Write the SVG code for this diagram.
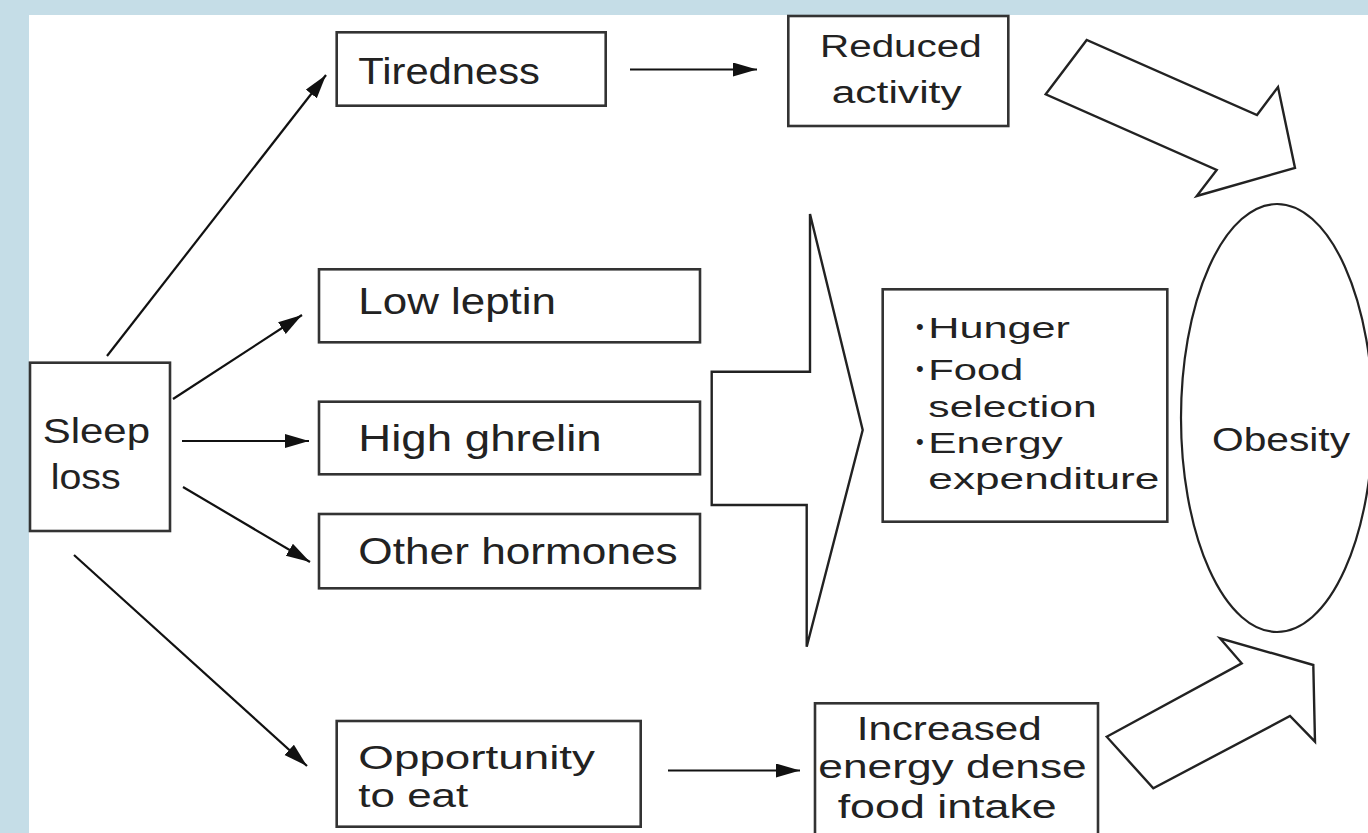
<svg xmlns="http://www.w3.org/2000/svg" width="1368" height="833" viewBox="0 0 1368 833">
<style>
.box{fill:#fff;stroke:#333;stroke-width:2.6}
.blk{fill:#fff;stroke:#222;stroke-width:2.4;stroke-linejoin:miter}
.t{font-family:"Liberation Sans",Arial,sans-serif;fill:#222}
.b{font-size:22px}
.c{stroke:#111;stroke-width:2.2;fill:none}
</style>
<defs>
<marker id="ah" markerUnits="userSpaceOnUse" markerWidth="26" markerHeight="16" refX="24" refY="7" orient="auto">
<path d="M0,0 L24,7 L0,14 Z" fill="#111"/>
</marker>
</defs>
<rect x="0" y="0" width="1368" height="833" fill="#c5dde7"/>
<rect x="29" y="15" width="1339" height="818" fill="#fff"/>

<g id="connectors">
<line class="c" x1="107" y1="356" x2="326" y2="75" marker-end="url(#ah)"/>
<line class="c" x1="173" y1="399" x2="302" y2="315" marker-end="url(#ah)"/>
<line class="c" x1="182" y1="441" x2="309" y2="441" marker-end="url(#ah)"/>
<line class="c" x1="183" y1="487" x2="310" y2="562" marker-end="url(#ah)"/>
<line class="c" x1="74" y1="555" x2="307" y2="766" marker-end="url(#ah)"/>
<line class="c" x1="630" y1="69.5" x2="757" y2="69.5" marker-end="url(#ah)"/>
<line class="c" x1="668" y1="770.5" x2="800" y2="770.5" marker-end="url(#ah)"/>
<polygon id="arrow-top" class="blk" points="1045.7,94.3 1086.7,40 1257,115 1278,87 1295,168 1196.7,196 1216.7,170"/>
<polygon id="arrow-mid" class="blk" points="810,214 810,371.7 711.7,371.7 711.7,505 806.7,505 806.7,646.7 862.7,430"/>
<polygon id="arrow-bottom" class="blk" points="1106.7,736.7 1241.7,663.3 1220,638.3 1313.3,665 1315,741.7 1290,716 1153.3,788.3"/>
</g>

<g id="sleep-loss">
<rect class="box" x="30" y="362.7" width="140" height="168.3"/>
<text class="t" x="42.7" y="443.3" font-size="35" textLength="107.3" lengthAdjust="spacingAndGlyphs">Sleep</text>
<text class="t" x="50.7" y="489.3" font-size="35" textLength="70" lengthAdjust="spacingAndGlyphs">loss</text>
</g>

<g id="tiredness">
<rect class="box" x="336.7" y="32.3" width="269" height="73.4"/>
<text class="t" x="358.3" y="84" font-size="37" textLength="181.7" lengthAdjust="spacingAndGlyphs">Tiredness</text>
</g>

<g id="reduced-activity">
<rect class="box" x="788.3" y="16" width="220" height="110"/>
<text class="t" x="820" y="57" font-size="31" textLength="161.7" lengthAdjust="spacingAndGlyphs">Reduced</text>
<text class="t" x="831.7" y="103" font-size="31" textLength="130" lengthAdjust="spacingAndGlyphs">activity</text>
</g>

<g id="low-leptin">
<rect class="box" x="319" y="269.3" width="381" height="73"/>
<text class="t" x="358.3" y="314" font-size="36" textLength="197.7" lengthAdjust="spacingAndGlyphs">Low leptin</text>
</g>

<g id="high-ghrelin">
<rect class="box" x="319" y="401.7" width="381" height="72.6"/>
<text class="t" x="358.3" y="450.7" font-size="36" textLength="243.4" lengthAdjust="spacingAndGlyphs">High ghrelin</text>
</g>

<g id="other-hormones">
<rect class="box" x="319" y="514" width="381" height="74.3"/>
<text class="t" x="358.3" y="564.3" font-size="36" textLength="319.4" lengthAdjust="spacingAndGlyphs">Other hormones</text>
</g>

<g id="hunger-box">
<rect class="box" x="882.7" y="289.3" width="284.6" height="232.4"/>
<text class="t" x="916" y="338.3" font-size="29"><tspan class="b" dy="-4">•</tspan><tspan x="928.3" dy="4" textLength="141.7" lengthAdjust="spacingAndGlyphs">Hunger</tspan></text>
<text class="t" x="916" y="380" font-size="29"><tspan class="b" dy="-4">•</tspan><tspan x="928.3" dy="4" textLength="95" lengthAdjust="spacingAndGlyphs">Food</tspan></text>
<text class="t" x="928.3" y="417.3" font-size="29" textLength="168.4" lengthAdjust="spacingAndGlyphs">selection</text>
<text class="t" x="916" y="453.3" font-size="29"><tspan class="b" dy="-4">•</tspan><tspan x="928.3" dy="4" textLength="134.4" lengthAdjust="spacingAndGlyphs">Energy</tspan></text>
<text class="t" x="928.3" y="489.3" font-size="29" textLength="231" lengthAdjust="spacingAndGlyphs">expenditure</text>
</g>

<g id="obesity">
<ellipse cx="1277" cy="418" rx="96" ry="214" fill="#fff" stroke="#222" stroke-width="2.2"/>
<text class="t" x="1212" y="451" font-size="34" textLength="138" lengthAdjust="spacingAndGlyphs">Obesity</text>
</g>

<g id="opportunity">
<rect class="box" x="336.7" y="721" width="304" height="105.7"/>
<text class="t" x="358.3" y="769" font-size="34" textLength="236.7" lengthAdjust="spacingAndGlyphs">Opportunity</text>
<text class="t" x="358.3" y="807" font-size="34" textLength="110" lengthAdjust="spacingAndGlyphs">to eat</text>
</g>

<g id="increased-intake">
<rect class="box" x="815" y="703.3" width="283" height="150"/>
<text class="t" x="856.7" y="740" font-size="34" textLength="185" lengthAdjust="spacingAndGlyphs">Increased</text>
<text class="t" x="818.3" y="778.3" font-size="34" textLength="268.4" lengthAdjust="spacingAndGlyphs">energy dense</text>
<text class="t" x="837.7" y="818.3" font-size="34" textLength="219" lengthAdjust="spacingAndGlyphs">food intake</text>
</g>
</svg>
